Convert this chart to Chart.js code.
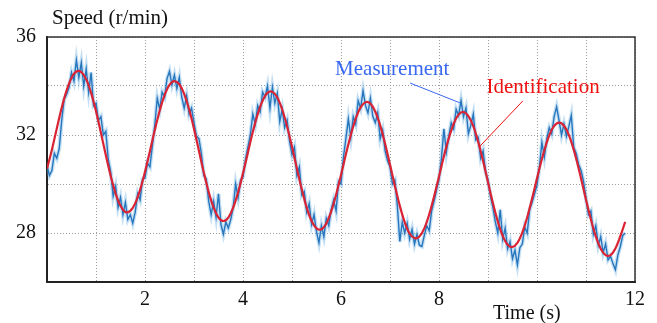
<!DOCTYPE html>
<html><head><meta charset="utf-8">
<script src="https://cdn.jsdelivr.net/npm/chart.js@4/dist/chart.umd.min.js"></script>
<style>html,body{margin:0;padding:0;background:#fff;overflow:hidden}</style>
</head><body>
<canvas id="c" width="657" height="323"></canvas>
<script>
// Identification (red), sampled every 0.1 s from t = 0
const identStart = 0, identStep = 0.1;
const identification = [
30.62, 31.40, 32.27, 33.11, 33.82, 34.33, 34.59, 34.57, 34.27, 33.72,
32.97, 32.09, 31.18, 30.33, 29.61, 29.11, 28.86, 28.90, 29.21, 29.76,
30.50, 31.34, 32.20, 32.99, 33.63, 34.05, 34.20, 34.07, 33.67, 33.05,
32.25, 31.36, 30.47, 29.67, 29.04, 28.63, 28.49, 28.63, 29.04, 29.66,
30.44, 31.28, 32.12, 32.85, 33.40, 33.72, 33.76, 33.53, 33.04, 32.35,
31.52, 30.63, 29.78, 29.04, 28.49, 28.19, 28.15, 28.39, 28.88, 29.56,
30.37, 31.21, 32.00, 32.67, 33.13, 33.34, 33.28, 32.95, 32.39, 31.64,
30.79, 29.92, 29.11, 28.44, 27.98, 27.79, 27.86, 28.19, 28.76, 29.49,
30.30, 31.13, 31.87, 32.46, 32.83, 32.94, 32.77, 32.36, 31.72, 30.94,
30.07, 29.22, 28.47, 27.88, 27.52, 27.43, 27.60, 28.02, 28.64, 29.41,
30.23, 31.02, 31.70, 32.21, 32.47, 32.48, 32.22, 31.72, 31.03, 30.21,
29.36, 28.55, 27.86, 27.36, 27.10, 27.10, 27.37, 27.87, 28.45
];
// Measurement (blue), sampled every 0.05 s from t = 0
const measStart = 0, measStep = 0.05;
const measurement = [
30.75, 30.35, 30.55, 31.25, 31.05, 31.45, 32.6, 33.45, 33.65, 33.95, 34.55, 34.2, 35.05, 34.35, 34.95, 34.0, 34.7, 33.75, 34.55, 33.2,
33.3, 32.6, 32.75, 32.0, 32.15, 31.0, 30.5, 29.5, 29.9, 29.05, 29.45, 28.75, 29.25, 28.55, 28.75, 28.4, 28.85, 29.6, 29.35, 30.2,
30.25, 30.85, 30.7, 31.55, 32.4, 33.5, 33.05, 33.75, 33.55, 34.3, 34.6, 34.05, 34.45, 33.9, 34.35, 33.55, 33.1, 33.6, 32.85, 33.1,
32.5, 31.95, 31.85, 31.25, 30.35, 30.2, 29.3, 28.75, 29.3, 28.65, 29.6, 28.35, 27.95, 28.45, 28.2, 28.55, 29.05, 30.0, 29.45, 30.15,
30.3, 31.0, 31.5, 32.0, 32.85, 32.45, 33.2, 32.95, 33.75, 33.55, 34.0, 33.1, 33.95, 33.3, 33.7, 32.55, 33.05, 32.3, 32.6, 31.75,
31.2, 31.5, 30.35, 30.7, 29.55, 29.7, 28.85, 29.2, 28.35, 28.75, 28.05, 27.6, 28.3, 27.85, 28.6, 28.3, 28.95, 29.35, 28.9, 30.1,
30.0, 31.1, 31.85, 32.65, 31.9, 32.75, 32.45, 33.4, 33.1, 33.8, 33.2, 32.9, 33.5, 32.75, 32.5, 32.9, 31.85, 32.2, 31.35, 30.95,
30.7, 30.0, 30.15, 29.1, 27.65, 28.45, 28.0, 28.4, 27.75, 28.15, 27.55, 27.95, 27.5, 27.45, 27.9, 28.3, 28.1, 28.9, 29.3, 29.75,
30.2, 31.05, 32.25, 31.3, 31.95, 32.5, 32.25, 33.05, 32.8, 33.4, 32.75, 33.1, 32.05, 32.4, 32.85, 31.8, 31.9, 31.05, 31.35, 30.5,
30.15, 29.5, 29.05, 28.45, 28.0, 28.95, 27.75, 28.2, 27.35, 27.65, 26.95, 27.3, 26.7, 27.4, 27.55, 28.25, 28.0, 28.95, 29.25, 29.6,
29.95, 30.7, 31.7, 31.1, 31.85, 32.3, 32.05, 32.75, 33.15, 32.6, 32.0, 32.45, 31.95, 32.35, 32.8, 31.5, 31.25, 30.8, 30.55, 30.1,
29.4, 28.75, 28.9, 27.95, 28.3, 27.5, 27.85, 27.2, 27.55, 26.9, 27.05, 26.75, 26.5, 27.1, 27.45, 27.9, 28.0
];
const xTickLabels = [2, 4, 6, 8, 12];
const yTickLabels = [28, 32, 36];
const yTitle = 'Speed (r/min)';
const xTitle = 'Time (s)';
const labelMeas = 'Measurement';
const labelIdent = 'Identification';
// annotation anchor positions in data units (text start, leader start, leader end)
const measNote  = {tx: 5.88, ty: 34.45, x1: 7.41, y1: 34.12, x2: 8.43, y2: 33.31};
const identNote = {tx: 8.97, ty: 33.70, x1: 9.71, y1: 33.39, x2: 8.82, y2: 31.51};

const toPts = (arr, t0, dt) => arr.map((v, i) => ({x: +(t0 + i * dt).toFixed(3), y: v}));
const FONT = 'Liberation Serif';

const overlay = {
  id: 'overlay',
  afterDatasetsDraw(chart) {
    const {ctx, chartArea: a, scales: {x, y}} = chart;
    ctx.save();
    ctx.strokeStyle = '#333';
    ctx.lineWidth = 1.5;
    ctx.beginPath();
    ctx.moveTo(a.left, a.top); ctx.lineTo(a.right, a.top); ctx.lineTo(a.right, a.bottom);
    ctx.stroke();
    ctx.textBaseline = 'alphabetic';
    ctx.textAlign = 'left';
    ctx.fillStyle = '#111';
    ctx.font = '21px "' + FONT + '"';
    ctx.fillText(yTitle, 52, 24);
    ctx.font = '20px "' + FONT + '"';
    ctx.fillText(xTitle, 493, 319);
    // Measurement note
    ctx.font = '21px "' + FONT + '"';
    ctx.fillStyle = '#3868f2';
    ctx.fillText(labelMeas, x.getPixelForValue(measNote.tx), y.getPixelForValue(measNote.ty));
    ctx.strokeStyle = '#3868f2'; ctx.lineWidth = 1;
    ctx.beginPath();
    ctx.moveTo(x.getPixelForValue(measNote.x1), y.getPixelForValue(measNote.y1));
    ctx.lineTo(x.getPixelForValue(measNote.x2), y.getPixelForValue(measNote.y2));
    ctx.stroke();
    // Identification note
    ctx.fillStyle = '#f01010';
    ctx.fillText(labelIdent, x.getPixelForValue(identNote.tx), y.getPixelForValue(identNote.ty));
    ctx.strokeStyle = '#f01010';
    ctx.beginPath();
    ctx.moveTo(x.getPixelForValue(identNote.x1), y.getPixelForValue(identNote.y1));
    ctx.lineTo(x.getPixelForValue(identNote.x2), y.getPixelForValue(identNote.y2));
    ctx.stroke();
    ctx.restore();
  }
};

const measPts = toPts(measurement, measStart, measStep);
new Chart(document.getElementById('c'), {
  type: 'line',
  data: {
    datasets: [
      {data: toPts(identification, identStart, identStep), borderColor: 'rgb(218,36,52)', borderWidth: 2.2, pointRadius: 0, tension: 0.35, fill: false},
      {data: measPts, borderColor: 'rgb(38,118,190)', borderWidth: 1.4, pointRadius: 0, tension: 0, fill: false},
      {data: measPts, borderColor: 'rgba(110,175,225,0.4)', borderWidth: 4, pointRadius: 0, tension: 0, fill: false}
    ]
  },
  options: {
    responsive: false,
    animation: false,
    devicePixelRatio: 1,
    layout: {padding: {left: 0, top: 37, right: 22, bottom: 0}},
    plugins: {legend: {display: false}, tooltip: {enabled: false}},
    scales: {
      x: {
        type: 'linear', min: 0, max: 12,
        ticks: {stepSize: 1, autoSkip: false, maxRotation: 0, padding: 6, color: '#111',
          font: {family: FONT, size: 20},
          callback: v => xTickLabels.includes(v) ? String(v) : ''},
        grid: {color: 'rgba(140,140,140,0.85)', lineWidth: 1, drawTicks: false},
        border: {display: true, color: '#222', width: 2, dash: [1, 2]},
        afterFit: s => { s.height = 41; }
      },
      y: {
        type: 'linear', min: 26, max: 36,
        ticks: {stepSize: 2, autoSkip: false, padding: 11, color: '#111',
          font: {family: FONT, size: 20},
          callback: v => yTickLabels.includes(v) ? String(v) : ''},
        grid: {color: 'rgba(140,140,140,0.85)', lineWidth: 1, drawTicks: false},
        border: {display: true, color: '#222', width: 2, dash: [1, 2]},
        afterFit: s => { s.width = 47; }
      }
    }
  },
  plugins: [overlay]
});
</script>
</body></html>
